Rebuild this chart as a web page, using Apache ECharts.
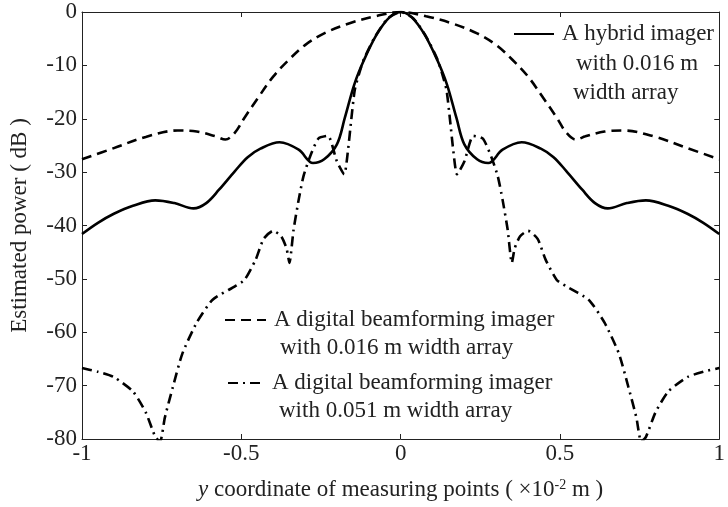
<!DOCTYPE html>
<html lang="en">

<head>
  <meta charset="UTF-8">
  <title>beam pattern</title>
  <script src="https://cdn.jsdelivr.net/npm/echarts@6/dist/echarts.min.js"></script>
</head>

<body style="margin:0;background:#fff;">
  <div id="chart" style="width:728px;height:507px;"></div>
  <script>
    // hybrid imager, 0.016 m
    var hybX = [-1, -0.95, -0.9, -0.84, -0.77, -0.71, -0.65, -0.61, -0.57, -0.52, -0.48, -0.44, -0.38, -0.32, -0.275, -0.24, -0.2, -0.175, -0.145, -0.115, -0.075, -0.035, 0,
      0.035, 0.075, 0.115, 0.145, 0.175, 0.2, 0.24, 0.275, 0.32, 0.38, 0.44, 0.48, 0.52, 0.57, 0.61, 0.65, 0.71, 0.77, 0.84, 0.9, 0.95, 1];
    var hybY = [-41.6, -39.5, -37.8, -36.3, -35.3, -35.8, -36.8, -35.8, -33.3, -29.8, -27.2, -25.6, -24.4, -25.8, -28.3, -27.6, -24.8, -19.8, -13.5, -9.0, -4.2, -1.0, 0,
      -1.0, -4.2, -9.0, -13.5, -19.8, -24.8, -27.6, -28.3, -25.8, -24.4, -25.6, -27.2, -29.8, -33.3, -35.8, -36.8, -35.8, -35.3, -36.3, -37.8, -39.5, -41.6];

    // digital beamforming, 0.016 m
    var dbf16X = [-1, -0.9, -0.8, -0.7, -0.64, -0.58, -0.55, -0.52, -0.49, -0.45, -0.4, -0.35, -0.3, -0.24, -0.16, -0.08, 0,
      0.08, 0.16, 0.24, 0.3, 0.35, 0.4, 0.45, 0.49, 0.52, 0.55, 0.58, 0.64, 0.7, 0.8, 0.9, 1];
    var dbf16Y = [-27.6, -25.5, -23.4, -22.2, -22.4, -23.3, -23.9, -22.6, -19.8, -16.3, -12.1, -8.9, -6.2, -4.0, -2.1, -0.8, 0,
      -0.8, -2.1, -4.0, -6.2, -8.9, -12.1, -16.3, -19.8, -22.6, -23.9, -23.3, -22.4, -22.2, -23.4, -25.5, -27.6];

    // digital beamforming, 0.051 m
    var dbf51X = [-1, -0.95, -0.9, -0.84, -0.8, -0.77, -0.755, -0.74, -0.715, -0.685, -0.64, -0.59, -0.52, -0.49, -0.455, -0.43, -0.4, -0.375, -0.358, -0.349, -0.336, -0.32, -0.305, -0.285, -0.258, -0.228, -0.2, -0.177, -0.165, -0.155, -0.144, -0.13, -0.115, -0.08, -0.04, 0,
      0.04, 0.08, 0.115, 0.13, 0.144, 0.155, 0.165, 0.177, 0.2, 0.228, 0.258, 0.285, 0.305, 0.32, 0.336, 0.349, 0.358, 0.375, 0.4, 0.43, 0.455, 0.49, 0.52, 0.59, 0.64, 0.685, 0.715, 0.74, 0.755, 0.77, 0.8, 0.84, 0.9, 0.95, 1];
    var dbf51Y = [-66.7, -67.4, -68.4, -71.1, -75.0, -79.6, -80.5, -76.0, -70.3, -64.0, -58.2, -53.9, -51.4, -50.2, -46.4, -42.5, -41.0, -42.0, -44.3, -47.0, -40.8, -35.2, -30.8, -27.2, -23.7, -23.2, -28.0, -30.4, -25.8, -20.2, -14.6, -11.5, -8.8, -4.6, -1.2, 0,
      -1.2, -4.6, -8.8, -11.5, -14.6, -20.2, -25.8, -30.4, -28.0, -23.2, -23.7, -27.2, -30.8, -35.2, -40.8, -47.0, -44.3, -42.0, -41.0, -42.5, -46.4, -50.2, -51.4, -53.9, -58.2, -64.0, -70.3, -76.0, -80.5, -79.6, -75.0, -71.1, -68.4, -67.4, -66.7];

    var xTicks = [-1, -0.5, 0, 0.5, 1];

    var serif = 'Liberation Serif';
    var ink = '#222';

    function pairs(xs, ys) {
      return xs.map(function(x, i) { return [x, ys[i]]; });
    }

    var chart = echarts.init(document.getElementById('chart'), null, { renderer: 'canvas' });

    var baseAxis = {
      axisLine: { onZero: false, lineStyle: { color: ink, width: 1 } },
      axisTick: { inside: true, length: 5, lineStyle: { color: ink } },
      splitLine: { show: false }
    };

    function legendText(lines, indents, lh) {
      var rich = {};
      var parts = lines.map(function(l, i) {
        rich['l' + i] = { fontFamily: serif, fontSize: 23, lineHeight: lh, color: ink, padding: [0, 0, 0, indents[i]] };
        return '{l' + i + '|' + l + '}';
      });
      return { text: parts.join('\n'), rich: rich };
    }

    var lg1 = legendText(['A hybrid imager', 'with 0.016 m', 'width array'], [0, 14, 11], 29.5);
    var lg2 = legendText(['A digital beamforming imager', 'with 0.016 m width array'], [0, 6], 28);
    var lg3 = legendText(['A digital beamforming imager', 'with 0.051 m width array'], [0, 7], 28);

    function mkLegend(name, lg, left, iconY, width, nLines, lh) {
      var h = nLines * lh;
      var p = h - lh;
      return {
        data: [name],
        left: left,
        top: iconY - (h + p) / 2,
        padding: 0,
        itemWidth: width,
        itemHeight: 14,
        itemStyle: { opacity: 0 },
        formatter: function() { return lg.text; },
        textStyle: {
          rich: lg.rich,
          padding: [p, 0, 0, 3],
          backgroundColor: 'rgba(255,255,255,0)'
        }
      };
    }

    chart.setOption({
      animation: false,
      backgroundColor: '#fff',
      grid: { left: 82, right: 4, top: 12, bottom: 68 },
      legend: [
        mkLegend('hybrid', lg1, 513, 34, 40, 3, 29.5),
        mkLegend('dbf16', lg2, 224, 320, 41, 2, 28),
        mkLegend('dbf51', lg3, 227, 383, 36, 2, 28)
      ],
      xAxis: [
        Object.assign({}, baseAxis, {
          type: 'value', min: -1, max: 1, interval: 0.5, position: 'bottom',
          axisLabel: { color: ink, fontFamily: serif, fontSize: 23, margin: 3,
            formatter: function(v) { return xTicks.indexOf(v) >= 0 ? String(v) : ''; } },
          name: '{it|y} coordinate of measuring points ( ×10{sup|-2} m )',
          nameLocation: 'middle',
          nameGap: 39,
          nameTextStyle: {
            color: ink, fontFamily: serif, fontSize: 23,
            rich: {
              it: { fontFamily: serif, fontSize: 23, fontStyle: 'italic', color: ink },
              sup: { fontFamily: serif, fontSize: 14, color: ink, verticalAlign: 'top', lineHeight: 14 }
            }
          }
        }),
        Object.assign({}, baseAxis, {
          type: 'value', min: -1, max: 1, interval: 0.5, position: 'top',
          axisLabel: { show: false }
        })
      ],
      yAxis: [
        Object.assign({}, baseAxis, {
          type: 'value', min: -80, max: 0, interval: 10, position: 'left',
          axisLabel: { color: ink, fontFamily: serif, fontSize: 23, margin: 5 },
          name: 'Estimated power ( dB )',
          nameLocation: 'middle',
          nameGap: 51,
          nameTextStyle: { color: ink, fontFamily: serif, fontSize: 23 }
        }),
        Object.assign({}, baseAxis, {
          type: 'value', min: -80, max: 0, interval: 10, position: 'right',
          axisLabel: { show: false }
        })
      ],
      series: [{
        name: 'hybrid',
        type: 'line',
        data: pairs(hybX, hybY),
        showSymbol: false,
        symbol: 'none',
        smooth: 0.35,
        lineStyle: { color: '#000', width: 2.6, type: 'solid' },
        itemStyle: { color: '#000' }
      }, {
        name: 'dbf16',
        type: 'line',
        data: pairs(dbf16X, dbf16Y),
        showSymbol: false,
        symbol: 'none',
        smooth: 0.35,
        lineStyle: { color: '#000', width: 2.6, type: [10, 6] },
        itemStyle: { color: '#000' }
      }, {
        name: 'dbf51',
        type: 'line',
        data: pairs(dbf51X, dbf51Y),
        showSymbol: false,
        symbol: 'none',
        smooth: 0.2,
        lineStyle: { color: '#000', width: 2.6, type: [10, 5, 2, 5] },
        itemStyle: { color: '#000' }
      }]
    });
  </script>
</body>

</html>
